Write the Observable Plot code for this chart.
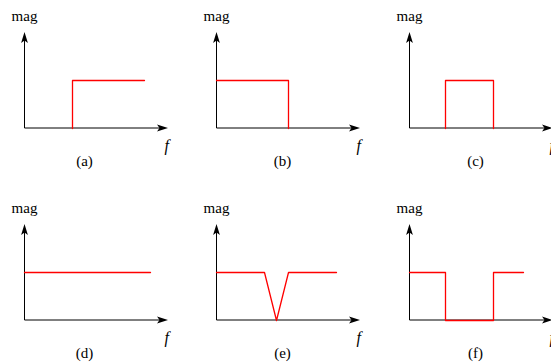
<!DOCTYPE html>
<html>
<head>
<meta charset="utf-8">
<script src="https://cdn.jsdelivr.net/npm/d3@7"></script>
<script src="https://cdn.jsdelivr.net/npm/@observablehq/plot@0.6"></script>
<style>
  html, body { margin: 0; padding: 0; background: #fff; }
  #fig { position: relative; width: 551px; height: 362px; overflow: hidden; }
  #fig svg { position: absolute; }
  #fig svg text { font-family: "Liberation Serif", "Times New Roman", Times, "DejaVu Serif", serif !important; }
</style>
</head>
<body>
<div id="fig"></div>
<script>
// Ideal filter magnitude responses (frequency f vs. magnitude)
const panelLabels = ["(a)", "(b)", "(c)", "(d)", "(e)", "(f)"];

// (a) high-pass
const fA = [4, 4, 10];
const magA = [0, 4, 4];
// (b) low-pass
const fB = [0, 6, 6];
const magB = [4, 4, 0];
// (c) band-pass
const fC = [3, 3, 7, 7];
const magC = [0, 4, 4, 0];
// (d) all-pass
const fD = [0, 10.5];
const magD = [4, 4];
// (e) notch
const fE = [0, 4, 5, 6, 10];
const magE = [4, 4, 0, 4, 4];
// (f) band-stop
const fF = [0, 3, 3, 7, 7, 9.5];
const magF = [4, 4, 0, 0, 4, 4];

const curves = [[fA, magA], [fB, magB], [fC, magC], [fD, magD], [fE, magE], [fF, magF]];

const F_MAX = 12;   // extent of the frequency axis
const MAG_MAX = 8;  // extent of the magnitude axis
const SERIF = "'Liberation Serif', 'Times New Roman', Times, 'DejaVu Serif', serif";

// Axis lines with filled arrowheads, placed through the plot's scales
function arrowAxes() {
  return (index, {x, y}) => {
    const g = d3.create("svg:g");
    const x0 = Math.round(x(0)) + 0.5;
    const y0 = Math.round(y(0));
    const xe = x(F_MAX), ye = y(MAG_MAX);
    const head = "M0,0 L-11,-3.4 L-8.5,0 L-11,3.4 Z";
    g.append("line")
      .attr("x1", x0).attr("y1", y0).attr("x2", xe - 8).attr("y2", y0)
      .attr("stroke", "#000").attr("stroke-width", 1);
    g.append("line")
      .attr("x1", x0).attr("y1", y0).attr("x2", x0).attr("y2", ye + 8)
      .attr("stroke", "#000").attr("stroke-width", 1);
    g.append("path").attr("d", head).attr("fill", "#000")
      .attr("transform", `translate(${xe},${y0})`);
    g.append("path").attr("d", head).attr("fill", "#000")
      .attr("transform", `translate(${x0},${ye}) rotate(-90)`);
    return g.node();
  };
}

const fig = document.getElementById("fig");

panelLabels.forEach((label, i) => {
  const col = i % 3, row = Math.floor(i / 3);
  const [fs, mags] = curves[i];
  const pts = fs.map((f, k) => ({f, mag: mags[k]}));
  const plot = Plot.plot({
    width: 192,
    height: 180,
    marginLeft: 24,
    marginRight: 24,
    marginTop: 32,
    marginBottom: 52,
    x: {domain: [0, F_MAX], axis: null},
    y: {domain: [0, MAG_MAX], axis: null},
    style: {background: "transparent", overflow: "visible"},
    marks: [
      arrowAxes(),
      Plot.line(pts, {x: "f", y: "mag", stroke: "#ff0000", strokeWidth: 1.3}),
      Plot.text(["mag"], {x: 0, y: 9.4, text: d => d, fill: "#000", fontFamily: SERIF, fontSize: 15}),
      Plot.text(["f"], {x: 11.85, y: -1.45, text: d => d, fill: "#000", fontFamily: SERIF, fontSize: 16, fontStyle: "italic"}),
      Plot.text([label], {x: col === 0 ? 5 : 5.5, y: -2.7, text: d => d, fill: "#000", fontFamily: SERIF, fontSize: 15})
    ]
  });
  plot.style.left = `${[0, 192, 385][col]}px`;
  plot.style.top = `${row * 192}px`;
  fig.append(plot);
});
</script>
</body>
</html>
